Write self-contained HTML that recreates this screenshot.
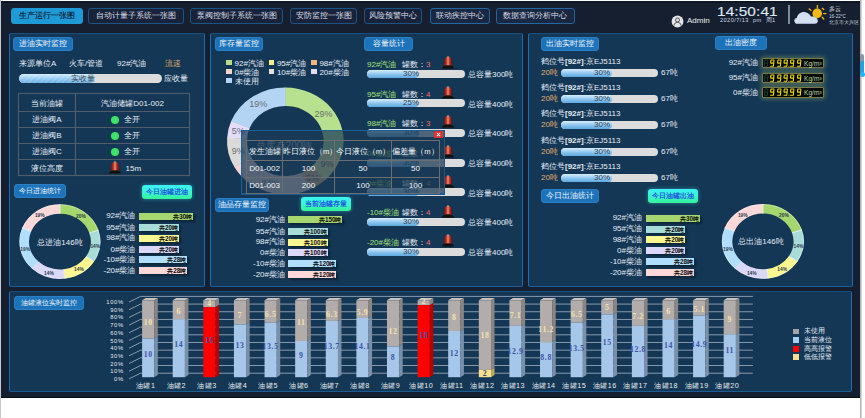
<!DOCTYPE html>
<html><head><meta charset="utf-8">
<style>
*{margin:0;padding:0;box-sizing:border-box}
html,body{width:865px;height:418px;overflow:hidden;background:#fff}
body{position:relative;font-family:"Liberation Sans",sans-serif;font-size:8px;color:#e8eef5;line-height:1}
.a{position:absolute;white-space:nowrap}
#frame{position:absolute;left:1px;top:1px;width:859px;height:397px;background:#151f30;border-top:2px solid #0e1624;border-bottom:1px solid #0a0f18}
.nav{position:absolute;top:8px;height:16px;border:1px solid #1b5386;border-radius:3px;background:#18233a;color:#d6dde6;font-size:8px;line-height:14px;text-align:center}
.nav.act{background:#1e9ad6;border-color:#1e9ad6;color:#0c2038;-webkit-text-stroke:0.15px #0c2038}
.panel{position:absolute;background:#133755;border:1px solid #1a6fb4;border-top-color:#17507f;border-bottom-color:#1a5d94;border-radius:2px}
.tbtn{position:absolute;height:14px;background:#1c73ba;border:1px solid #2c7fc2;border-radius:3px;color:#f2f6fa;font-size:8px;line-height:12px;text-align:center}
.cbtn{position:absolute;height:14px;background:linear-gradient(180deg,#3af2f6 0%,#3cf4d0 50%,#34f49a 100%);border-radius:3px;color:#1c3ee0;font-size:7.2px;line-height:14px;text-align:center;box-shadow:0 0 4px rgba(80,230,240,.45);-webkit-text-stroke:0.15px #1c3ee0}
</style></head><body>
<div id="frame"></div>
<div style="position:absolute;left:0;top:0;width:1px;height:418px;background:#c4c8cc"></div>
<div style="position:absolute;left:860px;top:0;width:2px;height:418px;background:linear-gradient(90deg,#9aa0a6,#e8eaec)"></div>

<!-- NAV -->
<div class="nav act" style="left:11px;width:72px">生产运行一张图</div>
<div class="nav" style="left:88px;width:96px">自动计量子系统一张图</div>
<div class="nav" style="left:190px;width:93px">泵阀控制子系统一张图</div>
<div class="nav" style="left:290px;width:67px">安防监控一张图</div>
<div class="nav" style="left:364px;width:58px">风险预警中心</div>
<div class="nav" style="left:430px;width:60px;border-color:#2366a0;background:#1a2740">联动疾控中心</div>
<div class="nav" style="left:495.5px;width:79.5px;border-color:#2366a0;background:#1a2740">数据查询分析中心</div>

<!-- PANELS -->
<div class="panel" style="left:9px;top:33px;width:196px;height:254px"></div>
<div class="panel" style="left:210px;top:33px;width:313px;height:254px"></div>
<div class="panel" style="left:528px;top:33px;width:325px;height:254px"></div>
<div class="panel" style="left:9px;top:291px;width:843px;height:101px"></div>


<!-- LEFT PANEL CONTENT -->
<div class="tbtn" style="left:13px;top:37px;width:60px">进油实时监控</div>
<div class="a" style="left:19px;top:60px">来源单位A</div>
<div class="a" style="left:69px;top:60px">火车/管道</div>
<div class="a" style="left:117px;top:60px">92#汽油</div>
<div class="a" style="left:165px;top:60px;color:#d9a566">流速</div>
<div class="a" style="left:19px;top:74px;width:143px;height:9px;border-radius:5px;background:#dcdcdc;overflow:hidden">
  <div style="position:absolute;left:0;top:0;width:76px;height:9px;border-radius:5px;background:repeating-linear-gradient(135deg,rgba(255,255,255,.12) 0 2px,rgba(255,255,255,0) 2px 4px),linear-gradient(180deg,#d4ecfb,#8cc6f0 60%,#6db2e6)"></div>
  <div style="position:absolute;left:0;top:0;width:128px;text-align:center;line-height:9px;color:#3e4a56">实收量</div>
</div>
<div class="a" style="left:164px;top:75px">应收量</div>
<svg class="a" style="left:0;top:0" width="210" height="200">
 <g stroke="#505c68" stroke-width="1.2" fill="none">
  <rect x="18.5" y="93.5" width="171" height="82"/>
  <line x1="75.5" y1="93" x2="75.5" y2="176"/>
  <line x1="18" y1="111.5" x2="190" y2="111.5"/>
  <line x1="18" y1="127.5" x2="190" y2="127.5"/>
  <line x1="18" y1="143.5" x2="190" y2="143.5"/>
  <line x1="18" y1="159.5" x2="190" y2="159.5"/>
 </g>
 <circle cx="115" cy="120" r="4" fill="#3fe06a"/>
 <circle cx="115" cy="136" r="4" fill="#3fe06a"/>
 <circle cx="115" cy="152" r="4" fill="#3fe06a"/>
</svg>
<div class="a" style="left:19px;top:99.5px;width:56px;text-align:center">当前油罐</div>
<div class="a" style="left:76px;top:99.5px;width:113px;text-align:center">汽油储罐D01-002</div>
<div class="a" style="left:19px;top:116.3px;width:56px;text-align:center">进油阀A</div>
<div class="a" style="left:124px;top:116.3px">全开</div>
<div class="a" style="left:19px;top:132.3px;width:56px;text-align:center">进油阀B</div>
<div class="a" style="left:124px;top:132.3px">全开</div>
<div class="a" style="left:19px;top:148.3px;width:56px;text-align:center">进油阀C</div>
<div class="a" style="left:124px;top:148.3px">全开</div>
<div class="a" style="left:19px;top:165px;width:56px;text-align:center">液位高度</div>
<div class="a" style="left:125.5px;top:165px">15m</div>
<!--ALARM15-->
<div class="tbtn" style="left:14px;top:183.5px;width:51.5px;height:14.5px;font-size:7.3px;line-height:12.5px">今日进油统计</div>
<div class="cbtn" style="left:142px;top:185px;width:50px">今日油罐进油</div>
<svg class="a" style="left:0;top:190px" width="205" height="100" font-family="Liberation Sans, sans-serif"><g transform="translate(0,-190)"><path d="M59.90,204.30 A40.5,37.3 0 0 1 98.42,230.07 L89.29,233.01 A30.9,27.8 0 0 0 59.90,213.80 Z" fill="#a6d66e"/>
<path d="M98.42,230.07 A40.5,37.3 0 0 1 94.10,261.59 L85.99,256.50 A30.9,27.8 0 0 0 89.29,233.01 Z" fill="#a8dcd8"/>
<path d="M94.10,261.59 A40.5,37.3 0 0 1 64.98,278.61 L63.77,269.18 A30.9,27.8 0 0 0 85.99,256.50 Z" fill="#fbf790"/>
<path d="M64.98,278.61 A40.5,37.3 0 0 1 32.18,268.79 L38.75,261.87 A30.9,27.8 0 0 0 63.77,269.18 Z" fill="#dcd8fa"/>
<path d="M32.18,268.79 A40.5,37.3 0 0 1 22.24,227.87 L31.17,231.37 A30.9,27.8 0 0 0 38.75,261.87 Z" fill="#b0defc"/>
<path d="M22.24,227.87 A40.5,37.3 0 0 1 59.90,204.30 L59.90,213.80 A30.9,27.8 0 0 0 31.17,231.37 Z" fill="#fdd8d8"/>
<line x1="59.90" y1="213.80" x2="59.90" y2="204.30" stroke="#ffffff" stroke-width="0.8"/>
<line x1="89.29" y1="233.01" x2="98.42" y2="230.07" stroke="#ffffff" stroke-width="0.8"/>
<line x1="85.99" y1="256.50" x2="94.10" y2="261.59" stroke="#ffffff" stroke-width="0.8"/>
<line x1="63.77" y1="269.18" x2="64.98" y2="278.61" stroke="#ffffff" stroke-width="0.8"/>
<line x1="38.75" y1="261.87" x2="32.18" y2="268.79" stroke="#ffffff" stroke-width="0.8"/>
<line x1="31.17" y1="231.37" x2="22.24" y2="227.87" stroke="#ffffff" stroke-width="0.8"/>
<ellipse cx="59.9" cy="241.6" rx="40.1" ry="36.9" fill="none" stroke="rgba(255,255,255,.45)" stroke-width="0.8"/>
<text x="80.9" y="216.0" font-size="4.9" fill="#2c3a4e" font-weight="bold" text-anchor="middle" dominant-baseline="central">20%</text>
<text x="95.3" y="246.4" font-size="4.9" fill="#2c3a4e" font-weight="bold" text-anchor="middle" dominant-baseline="central">14%</text>
<text x="79.0" y="269.8" font-size="4.9" fill="#2c3a4e" font-weight="bold" text-anchor="middle" dominant-baseline="central">14%</text>
<text x="48.9" y="273.3" font-size="4.9" fill="#2c3a4e" font-weight="bold" text-anchor="middle" dominant-baseline="central">14%</text>
<text x="25.1" y="249.4" font-size="4.9" fill="#2c3a4e" font-weight="bold" text-anchor="middle" dominant-baseline="central">19%</text>
<text x="39.8" y="215.4" font-size="4.9" fill="#2c3a4e" font-weight="bold" text-anchor="middle" dominant-baseline="central">19%</text></g></svg>
<div class="a" style="left:20px;top:239px;width:80px;text-align:center;font-size:8px">总进油146吨</div>
<div class="a" style="left:75.5px;top:212.4px;width:60px;text-align:right">92#汽油</div>
<div class="a" style="left:139px;top:212.9px;width:54.3px;height:7px;background:#a6d66e;box-shadow:1.5px 1.5px 2px rgba(0,0,0,.35);color:#0c0c0c;font-weight:bold;font-size:6.3px;line-height:7px;text-align:right;padding-right:1px">共30吨</div>
<div class="a" style="left:75.5px;top:223.5px;width:60px;text-align:right">95#汽油</div>
<div class="a" style="left:139px;top:224.0px;width:40px;height:7px;background:#a8dcd8;box-shadow:1.5px 1.5px 2px rgba(0,0,0,.35);color:#0c0c0c;font-weight:bold;font-size:6.3px;line-height:7px;text-align:right;padding-right:1px">共20吨</div>
<div class="a" style="left:75.5px;top:234.2px;width:60px;text-align:right">98#汽油</div>
<div class="a" style="left:139px;top:234.7px;width:40px;height:7px;background:#fbf790;box-shadow:1.5px 1.5px 2px rgba(0,0,0,.35);color:#0c0c0c;font-weight:bold;font-size:6.3px;line-height:7px;text-align:right;padding-right:1px">共20吨</div>
<div class="a" style="left:75.5px;top:245.5px;width:60px;text-align:right">0#柴油</div>
<div class="a" style="left:139px;top:246.0px;width:40px;height:7px;background:#dcd8fa;box-shadow:1.5px 1.5px 2px rgba(0,0,0,.35);color:#0c0c0c;font-weight:bold;font-size:6.3px;line-height:7px;text-align:right;padding-right:1px">共20吨</div>
<div class="a" style="left:75.5px;top:255.8px;width:60px;text-align:right">-10#柴油</div>
<div class="a" style="left:139px;top:256.3px;width:48.3px;height:7px;background:#b0defc;box-shadow:1.5px 1.5px 2px rgba(0,0,0,.35);color:#0c0c0c;font-weight:bold;font-size:6.3px;line-height:7px;text-align:right;padding-right:1px">共28吨</div>
<div class="a" style="left:75.5px;top:266.5px;width:60px;text-align:right">-20#柴油</div>
<div class="a" style="left:139px;top:267.0px;width:48.3px;height:7px;background:#fdd8d8;box-shadow:1.5px 1.5px 2px rgba(0,0,0,.35);color:#0c0c0c;font-weight:bold;font-size:6.3px;line-height:7px;text-align:right;padding-right:1px">共28吨</div>
<div class="tbtn" style="left:215px;top:37px;width:48px">库存量监控</div>
<div class="tbtn" style="left:364px;top:37px;width:49px">容量统计</div>
<div class="a" style="left:226.2px;top:59.9px;width:5.5px;height:5.2px;background:#b5dd8a"></div>
<div class="a" style="left:234.6px;top:59.6px">92#汽油</div>
<div class="a" style="left:268.5px;top:59.9px;width:5.5px;height:5.2px;background:#f8f08a"></div>
<div class="a" style="left:276.9px;top:59.6px">95#汽油</div>
<div class="a" style="left:311px;top:59.9px;width:5.5px;height:5.2px;background:#f0b47c"></div>
<div class="a" style="left:319.4px;top:59.6px">98#汽油</div>
<div class="a" style="left:226.2px;top:68.9px;width:5.5px;height:5.2px;background:#f8d4c8"></div>
<div class="a" style="left:234.6px;top:68.6px">0#柴油</div>
<div class="a" style="left:268.5px;top:68.9px;width:5.5px;height:5.2px;background:#e4e0dc"></div>
<div class="a" style="left:276.9px;top:68.6px">10#柴油</div>
<div class="a" style="left:311px;top:68.9px;width:5.5px;height:5.2px;background:#e4dcf4"></div>
<div class="a" style="left:319.4px;top:68.6px">20#柴油</div>
<div class="a" style="left:226.2px;top:77.9px;width:5.5px;height:5.2px;background:#b4d4f4"></div>
<div class="a" style="left:234.6px;top:77.6px">未使用</div>
<svg class="a" style="left:210px;top:80px" width="150" height="120" font-family="Liberation Sans, sans-serif"><g transform="translate(-210,-80)"><path d="M285.30,87.60 A58.3,53.4 0 0 1 341.77,154.28 L322.40,149.73 A38.3,35.1 0 0 0 285.30,105.90 Z" fill="#b7e08f"/>
<path d="M341.77,154.28 A58.3,53.4 0 0 1 325.21,179.93 L311.52,166.59 A38.3,35.1 0 0 0 322.40,149.73 Z" fill="#f8f08a"/>
<path d="M325.21,179.93 A58.3,53.4 0 0 1 310.12,189.32 L301.61,172.76 A38.3,35.1 0 0 0 311.52,166.59 Z" fill="#f0b47c"/>
<path d="M310.12,189.32 A58.3,53.4 0 0 1 234.21,166.73 L251.74,157.91 A38.3,35.1 0 0 0 301.61,172.76 Z" fill="#f8d4d0"/>
<path d="M234.21,166.73 A58.3,53.4 0 0 1 227.12,137.65 L247.08,138.80 A38.3,35.1 0 0 0 251.74,157.91 Z" fill="#dcdad8"/>
<path d="M227.12,137.65 A58.3,53.4 0 0 1 231.09,121.34 L249.69,128.08 A38.3,35.1 0 0 0 247.08,138.80 Z" fill="#e4dcf8"/>
<path d="M231.09,121.34 A58.3,53.4 0 0 1 285.30,87.60 L285.30,105.90 A38.3,35.1 0 0 0 249.69,128.08 Z" fill="#b4d4f4"/>
<line x1="285.30" y1="105.90" x2="285.30" y2="87.60" stroke="rgba(255,255,255,.6)" stroke-width="0.6"/>
<line x1="322.40" y1="149.73" x2="341.77" y2="154.28" stroke="rgba(255,255,255,.6)" stroke-width="0.6"/>
<line x1="311.52" y1="166.59" x2="325.21" y2="179.93" stroke="rgba(255,255,255,.6)" stroke-width="0.6"/>
<line x1="301.61" y1="172.76" x2="310.12" y2="189.32" stroke="rgba(255,255,255,.6)" stroke-width="0.6"/>
<line x1="251.74" y1="157.91" x2="234.21" y2="166.73" stroke="rgba(255,255,255,.6)" stroke-width="0.6"/>
<line x1="247.08" y1="138.80" x2="227.12" y2="137.65" stroke="rgba(255,255,255,.6)" stroke-width="0.6"/>
<line x1="249.69" y1="128.08" x2="231.09" y2="121.34" stroke="rgba(255,255,255,.6)" stroke-width="0.6"/>
<text x="323.5" y="113.9" font-size="9" fill="#6a6e70" font-weight="normal" text-anchor="middle" dominant-baseline="central">29%</text>
<text x="326.9" y="163.5" font-size="9" fill="#6a6e70" font-weight="normal" text-anchor="middle" dominant-baseline="central">9%</text>
<text x="312.4" y="177.6" font-size="9" fill="#6a6e70" font-weight="normal" text-anchor="middle" dominant-baseline="central">5%</text>
<text x="270.4" y="183.1" font-size="9" fill="#6a6e70" font-weight="normal" text-anchor="middle" dominant-baseline="central">24%</text>
<text x="238.2" y="150.7" font-size="9" fill="#6a6e70" font-weight="normal" text-anchor="middle" dominant-baseline="central">9%</text>
<text x="238.2" y="131.3" font-size="9" fill="#6a6e70" font-weight="normal" text-anchor="middle" dominant-baseline="central">5%</text>
<text x="258.2" y="104.4" font-size="9" fill="#6a6e70" font-weight="normal" text-anchor="middle" dominant-baseline="central">19%</text></g></svg>
<div class="a" style="left:244px;top:140.5px;width:80px;text-align:center;font-size:10px;color:#b4c0cc">总库存200吨</div>
<div class="a" style="left:367px;top:60.8px;color:#a6e27a">92#汽油</div>
<div class="a" style="left:402px;top:60.8px">罐数：<span style="color:#f46a6a">3</span></div>
<svg class="a" style="left:441px;top:56.0px" width="14" height="13" viewBox="0 0 14 13"><defs><linearGradient id="ag" x1="0" x2="1"><stop offset="0" stop-color="#5a120a"/><stop offset=".3" stop-color="#b8301e"/><stop offset=".5" stop-color="#e89080"/><stop offset=".7" stop-color="#b8301e"/><stop offset="1" stop-color="#4a0e08"/></linearGradient></defs><path d="M2.7,9.6 C2.7,2.6 4.2,0.9 7,0.9 C9.8,0.9 11.3,2.6 11.3,9.6 Z" fill="url(#ag)"/><path d="M0.8,12.4 C1.6,10.3 3,9.4 7,9.4 C11,9.4 12.4,10.3 13.2,12.4Z" fill="#140e08"/><path d="M5.8,1.1 L8.2,1.1 L7.8,0.3 L6.2,0.3Z" fill="#8a8a8a"/></svg>
<div class="a" style="left:367px;top:69.5px;width:98px;height:8px;border-radius:4px;background:#dcdcdc;overflow:hidden"><div style="position:absolute;left:0;top:0;width:52px;height:8px;border-radius:4px;background:linear-gradient(180deg,#d8eefc,#8ac4ee 55%,#5ea8e0)"></div><div style="position:absolute;left:0;top:0;width:52px;text-align:right;line-height:8px;color:#38424c">30%</div></div>
<div class="a" style="left:468px;top:70.8px">总容量300吨</div>
<div class="a" style="left:367px;top:90.5px;color:#a6e27a">95#汽油</div>
<div class="a" style="left:402px;top:90.5px">罐数：<span style="color:#f46a6a">4</span></div>
<svg class="a" style="left:441px;top:85.7px" width="14" height="13" viewBox="0 0 14 13"><defs><linearGradient id="ag" x1="0" x2="1"><stop offset="0" stop-color="#5a120a"/><stop offset=".3" stop-color="#b8301e"/><stop offset=".5" stop-color="#e89080"/><stop offset=".7" stop-color="#b8301e"/><stop offset="1" stop-color="#4a0e08"/></linearGradient></defs><path d="M2.7,9.6 C2.7,2.6 4.2,0.9 7,0.9 C9.8,0.9 11.3,2.6 11.3,9.6 Z" fill="url(#ag)"/><path d="M0.8,12.4 C1.6,10.3 3,9.4 7,9.4 C11,9.4 12.4,10.3 13.2,12.4Z" fill="#140e08"/><path d="M5.8,1.1 L8.2,1.1 L7.8,0.3 L6.2,0.3Z" fill="#8a8a8a"/></svg>
<div class="a" style="left:367px;top:99.2px;width:98px;height:8px;border-radius:4px;background:#dcdcdc;overflow:hidden"><div style="position:absolute;left:0;top:0;width:52px;height:8px;border-radius:4px;background:linear-gradient(180deg,#d8eefc,#8ac4ee 55%,#5ea8e0)"></div><div style="position:absolute;left:0;top:0;width:52px;text-align:right;line-height:8px;color:#38424c">25%</div></div>
<div class="a" style="left:468px;top:100.5px">总容量400吨</div>
<div class="a" style="left:367px;top:120.2px;color:#a6e27a">98#汽油</div>
<div class="a" style="left:402px;top:120.2px">罐数：<span style="color:#f46a6a">3</span></div>
<svg class="a" style="left:441px;top:115.4px" width="14" height="13" viewBox="0 0 14 13"><defs><linearGradient id="ag" x1="0" x2="1"><stop offset="0" stop-color="#5a120a"/><stop offset=".3" stop-color="#b8301e"/><stop offset=".5" stop-color="#e89080"/><stop offset=".7" stop-color="#b8301e"/><stop offset="1" stop-color="#4a0e08"/></linearGradient></defs><path d="M2.7,9.6 C2.7,2.6 4.2,0.9 7,0.9 C9.8,0.9 11.3,2.6 11.3,9.6 Z" fill="url(#ag)"/><path d="M0.8,12.4 C1.6,10.3 3,9.4 7,9.4 C11,9.4 12.4,10.3 13.2,12.4Z" fill="#140e08"/><path d="M5.8,1.1 L8.2,1.1 L7.8,0.3 L6.2,0.3Z" fill="#8a8a8a"/></svg>
<div class="a" style="left:367px;top:128.9px;width:98px;height:8px;border-radius:4px;background:#dcdcdc;overflow:hidden"><div style="position:absolute;left:0;top:0;width:52px;height:8px;border-radius:4px;background:linear-gradient(180deg,#d8eefc,#8ac4ee 55%,#5ea8e0)"></div><div style="position:absolute;left:0;top:0;width:52px;text-align:right;line-height:8px;color:#38424c">30%</div></div>
<div class="a" style="left:468px;top:130.2px">总容量400吨</div>
<div class="a" style="left:367px;top:149.9px;color:#a6e27a">0#柴油</div>
<div class="a" style="left:402px;top:149.9px">罐数：<span style="color:#f46a6a">4</span></div>
<svg class="a" style="left:441px;top:145.1px" width="14" height="13" viewBox="0 0 14 13"><defs><linearGradient id="ag" x1="0" x2="1"><stop offset="0" stop-color="#5a120a"/><stop offset=".3" stop-color="#b8301e"/><stop offset=".5" stop-color="#e89080"/><stop offset=".7" stop-color="#b8301e"/><stop offset="1" stop-color="#4a0e08"/></linearGradient></defs><path d="M2.7,9.6 C2.7,2.6 4.2,0.9 7,0.9 C9.8,0.9 11.3,2.6 11.3,9.6 Z" fill="url(#ag)"/><path d="M0.8,12.4 C1.6,10.3 3,9.4 7,9.4 C11,9.4 12.4,10.3 13.2,12.4Z" fill="#140e08"/><path d="M5.8,1.1 L8.2,1.1 L7.8,0.3 L6.2,0.3Z" fill="#8a8a8a"/></svg>
<div class="a" style="left:367px;top:158.6px;width:98px;height:8px;border-radius:4px;background:#dcdcdc;overflow:hidden"><div style="position:absolute;left:0;top:0;width:52px;height:8px;border-radius:4px;background:linear-gradient(180deg,#d8eefc,#8ac4ee 55%,#5ea8e0)"></div><div style="position:absolute;left:0;top:0;width:52px;text-align:right;line-height:8px;color:#38424c">30%</div></div>
<div class="a" style="left:468px;top:159.9px">总容量400吨</div>
<div class="a" style="left:367px;top:179.6px;color:#a6e27a">0#柴油</div>
<div class="a" style="left:402px;top:179.6px">罐数：<span style="color:#f46a6a">4</span></div>
<svg class="a" style="left:441px;top:174.8px" width="14" height="13" viewBox="0 0 14 13"><defs><linearGradient id="ag" x1="0" x2="1"><stop offset="0" stop-color="#5a120a"/><stop offset=".3" stop-color="#b8301e"/><stop offset=".5" stop-color="#e89080"/><stop offset=".7" stop-color="#b8301e"/><stop offset="1" stop-color="#4a0e08"/></linearGradient></defs><path d="M2.7,9.6 C2.7,2.6 4.2,0.9 7,0.9 C9.8,0.9 11.3,2.6 11.3,9.6 Z" fill="url(#ag)"/><path d="M0.8,12.4 C1.6,10.3 3,9.4 7,9.4 C11,9.4 12.4,10.3 13.2,12.4Z" fill="#140e08"/><path d="M5.8,1.1 L8.2,1.1 L7.8,0.3 L6.2,0.3Z" fill="#8a8a8a"/></svg>
<div class="a" style="left:367px;top:188.3px;width:98px;height:8px;border-radius:4px;background:#dcdcdc;overflow:hidden"><div style="position:absolute;left:0;top:0;width:52px;height:8px;border-radius:4px;background:linear-gradient(180deg,#d8eefc,#8ac4ee 55%,#5ea8e0)"></div><div style="position:absolute;left:0;top:0;width:52px;text-align:right;line-height:8px;color:#38424c">30%</div></div>
<div class="a" style="left:468px;top:189.6px">总容量400吨</div>
<div class="a" style="left:367px;top:209.3px;color:#a6e27a">-10#柴油</div>
<div class="a" style="left:402px;top:209.3px">罐数：<span style="color:#f46a6a">4</span></div>
<svg class="a" style="left:441px;top:204.5px" width="14" height="13" viewBox="0 0 14 13"><defs><linearGradient id="ag" x1="0" x2="1"><stop offset="0" stop-color="#5a120a"/><stop offset=".3" stop-color="#b8301e"/><stop offset=".5" stop-color="#e89080"/><stop offset=".7" stop-color="#b8301e"/><stop offset="1" stop-color="#4a0e08"/></linearGradient></defs><path d="M2.7,9.6 C2.7,2.6 4.2,0.9 7,0.9 C9.8,0.9 11.3,2.6 11.3,9.6 Z" fill="url(#ag)"/><path d="M0.8,12.4 C1.6,10.3 3,9.4 7,9.4 C11,9.4 12.4,10.3 13.2,12.4Z" fill="#140e08"/><path d="M5.8,1.1 L8.2,1.1 L7.8,0.3 L6.2,0.3Z" fill="#8a8a8a"/></svg>
<div class="a" style="left:367px;top:218.0px;width:98px;height:8px;border-radius:4px;background:#dcdcdc;overflow:hidden"><div style="position:absolute;left:0;top:0;width:52px;height:8px;border-radius:4px;background:linear-gradient(180deg,#d8eefc,#8ac4ee 55%,#5ea8e0)"></div><div style="position:absolute;left:0;top:0;width:52px;text-align:right;line-height:8px;color:#38424c">30%</div></div>
<div class="a" style="left:468px;top:219.3px">总容量400吨</div>
<div class="a" style="left:367px;top:239.0px;color:#a6e27a">-20#柴油</div>
<div class="a" style="left:402px;top:239.0px">罐数：<span style="color:#f46a6a">4</span></div>
<svg class="a" style="left:441px;top:234.2px" width="14" height="13" viewBox="0 0 14 13"><defs><linearGradient id="ag" x1="0" x2="1"><stop offset="0" stop-color="#5a120a"/><stop offset=".3" stop-color="#b8301e"/><stop offset=".5" stop-color="#e89080"/><stop offset=".7" stop-color="#b8301e"/><stop offset="1" stop-color="#4a0e08"/></linearGradient></defs><path d="M2.7,9.6 C2.7,2.6 4.2,0.9 7,0.9 C9.8,0.9 11.3,2.6 11.3,9.6 Z" fill="url(#ag)"/><path d="M0.8,12.4 C1.6,10.3 3,9.4 7,9.4 C11,9.4 12.4,10.3 13.2,12.4Z" fill="#140e08"/><path d="M5.8,1.1 L8.2,1.1 L7.8,0.3 L6.2,0.3Z" fill="#8a8a8a"/></svg>
<div class="a" style="left:367px;top:247.7px;width:98px;height:8px;border-radius:4px;background:#dcdcdc;overflow:hidden"><div style="position:absolute;left:0;top:0;width:52px;height:8px;border-radius:4px;background:linear-gradient(180deg,#d8eefc,#8ac4ee 55%,#5ea8e0)"></div><div style="position:absolute;left:0;top:0;width:52px;text-align:right;line-height:8px;color:#38424c">30%</div></div>
<div class="a" style="left:468px;top:249.0px">总容量400吨</div>
<div class="tbtn" style="left:215px;top:198px;width:54px">油品存量监控</div>
<div class="cbtn" style="left:301px;top:197px;width:50px">当前油罐存量</div>
<div class="a" style="left:225px;top:215.9px;width:60px;text-align:right">92#汽油</div>
<div class="a" style="left:288.2px;top:216.4px;width:54.3px;height:7px;background:#a6d66e;box-shadow:1.5px 1.5px 2px rgba(0,0,0,.35);color:#0c0c0c;font-weight:bold;font-size:6.3px;line-height:7px;text-align:right;padding-right:1px">共150吨</div>
<div class="a" style="left:225px;top:227.6px;width:60px;text-align:right">95#汽油</div>
<div class="a" style="left:288.2px;top:228.1px;width:39.4px;height:7px;background:#a8dcd8;box-shadow:1.5px 1.5px 2px rgba(0,0,0,.35);color:#0c0c0c;font-weight:bold;font-size:6.3px;line-height:7px;text-align:right;padding-right:1px">共100吨</div>
<div class="a" style="left:225px;top:238px;width:60px;text-align:right">98#汽油</div>
<div class="a" style="left:288.2px;top:238.5px;width:39.4px;height:7px;background:#fbf790;box-shadow:1.5px 1.5px 2px rgba(0,0,0,.35);color:#0c0c0c;font-weight:bold;font-size:6.3px;line-height:7px;text-align:right;padding-right:1px">共100吨</div>
<div class="a" style="left:225px;top:248.9px;width:60px;text-align:right">0#柴油</div>
<div class="a" style="left:288.2px;top:249.4px;width:39.4px;height:7px;background:#dcd8fa;box-shadow:1.5px 1.5px 2px rgba(0,0,0,.35);color:#0c0c0c;font-weight:bold;font-size:6.3px;line-height:7px;text-align:right;padding-right:1px">共100吨</div>
<div class="a" style="left:225px;top:259.7px;width:60px;text-align:right">-10#柴油</div>
<div class="a" style="left:288.2px;top:260.2px;width:48.3px;height:7px;background:#b0defc;box-shadow:1.5px 1.5px 2px rgba(0,0,0,.35);color:#0c0c0c;font-weight:bold;font-size:6.3px;line-height:7px;text-align:right;padding-right:1px">共120吨</div>
<div class="a" style="left:225px;top:270.5px;width:60px;text-align:right">-20#柴油</div>
<div class="a" style="left:288.2px;top:271.0px;width:48.3px;height:7px;background:#fdd8d8;box-shadow:1.5px 1.5px 2px rgba(0,0,0,.35);color:#0c0c0c;font-weight:bold;font-size:6.3px;line-height:7px;text-align:right;padding-right:1px">共120吨</div>
<div class="a" style="left:241px;top:130px;width:203.5px;height:65px;background:rgba(29,60,86,.74);border:1px solid #1c5f96;border-right-color:#25567e;border-bottom:2px solid #1a5a90"></div>
<div class="a" style="left:434px;top:131px;width:9px;height:7px;background:#d83434;color:#fff;font-size:7px;line-height:7px;text-align:center;font-weight:bold">×</div>
<svg class="a" style="left:240px;top:135px" width="210" height="65"><g transform="translate(-240,-135)" stroke="#6b6e70" stroke-width="1" fill="none"><rect x="246.5" y="140.5" width="193" height="53"/><line x1="282.5" y1="140" x2="282.5" y2="194"/><line x1="334.5" y1="140" x2="334.5" y2="194"/><line x1="391.5" y1="140" x2="391.5" y2="194"/><line x1="246" y1="160.5" x2="440" y2="160.5"/><line x1="246" y1="177.5" x2="440" y2="177.5"/></g></svg>
<div class="a" style="left:247px;top:147.5px;width:35px;text-align:center;color:#f4f6f8;font-size:7.6px">发生油罐</div>
<div class="a" style="left:283px;top:147.5px;width:51px;text-align:center;color:#f4f6f8;font-size:7.6px">昨日液位（m）</div>
<div class="a" style="left:335px;top:147.5px;width:56px;text-align:center;color:#f4f6f8;font-size:7.6px">今日液位（m）</div>
<div class="a" style="left:392px;top:147.5px;width:47px;text-align:center;color:#f4f6f8;font-size:7.6px">偏差量（m）</div>
<div class="a" style="left:247px;top:164.6px;width:35px;text-align:center;color:#f4f6f8;font-size:8px">D01-002</div>
<div class="a" style="left:283px;top:164.6px;width:51px;text-align:center;color:#f4f6f8;font-size:8px">100</div>
<div class="a" style="left:335px;top:164.6px;width:56px;text-align:center;color:#f4f6f8;font-size:8px">50</div>
<div class="a" style="left:392px;top:164.6px;width:47px;text-align:center;color:#f4f6f8;font-size:8px">50</div>
<div class="a" style="left:247px;top:181.5px;width:35px;text-align:center;color:#f4f6f8;font-size:8px">D01-003</div>
<div class="a" style="left:283px;top:181.5px;width:51px;text-align:center;color:#f4f6f8;font-size:8px">200</div>
<div class="a" style="left:335px;top:181.5px;width:56px;text-align:center;color:#f4f6f8;font-size:8px">100</div>
<div class="a" style="left:392px;top:181.5px;width:47px;text-align:center;color:#f4f6f8;font-size:8px">100</div>
<svg class="a" style="left:108px;top:161px" width="14" height="13" viewBox="0 0 14 13"><defs><linearGradient id="ag" x1="0" x2="1"><stop offset="0" stop-color="#5a120a"/><stop offset=".3" stop-color="#b8301e"/><stop offset=".5" stop-color="#e89080"/><stop offset=".7" stop-color="#b8301e"/><stop offset="1" stop-color="#4a0e08"/></linearGradient></defs><path d="M2.7,9.6 C2.7,2.6 4.2,0.9 7,0.9 C9.8,0.9 11.3,2.6 11.3,9.6 Z" fill="url(#ag)"/><path d="M0.8,12.4 C1.6,10.3 3,9.4 7,9.4 C11,9.4 12.4,10.3 13.2,12.4Z" fill="#140e08"/><path d="M5.8,1.1 L8.2,1.1 L7.8,0.3 L6.2,0.3Z" fill="#8a8a8a"/></svg>
<div class="tbtn" style="left:541px;top:37px;width:58px">出油实时监控</div>
<div class="tbtn" style="left:715px;top:36px;width:52px">出油密度</div>
<div class="a" style="left:541px;top:57.5px">鹤位号<b>[92#]</b>:京EJ5113</div>
<div class="a" style="left:541px;top:68.5px;color:#e6b06e">20吨</div>
<div class="a" style="left:561px;top:68.5px;width:97px;height:8px;border-radius:4px;background:#dcdcdc;overflow:hidden"><div style="position:absolute;left:0;top:0;width:51px;height:8px;border-radius:4px;background:linear-gradient(180deg,#d8eefc,#8ac4ee 55%,#5ea8e0)"></div><div style="position:absolute;left:0;top:0;width:49px;text-align:right;line-height:8px;color:#38424c">30%</div></div>
<div class="a" style="left:661px;top:68.5px">67吨</div>
<div class="a" style="left:541px;top:83.9px">鹤位号<b>[92#]</b>:京EJ5113</div>
<div class="a" style="left:541px;top:94.9px;color:#e6b06e">20吨</div>
<div class="a" style="left:561px;top:94.9px;width:97px;height:8px;border-radius:4px;background:#dcdcdc;overflow:hidden"><div style="position:absolute;left:0;top:0;width:51px;height:8px;border-radius:4px;background:linear-gradient(180deg,#d8eefc,#8ac4ee 55%,#5ea8e0)"></div><div style="position:absolute;left:0;top:0;width:49px;text-align:right;line-height:8px;color:#38424c">30%</div></div>
<div class="a" style="left:661px;top:94.9px">67吨</div>
<div class="a" style="left:541px;top:110.3px">鹤位号<b>[92#]</b>:京EJ5113</div>
<div class="a" style="left:541px;top:121.3px;color:#e6b06e">20吨</div>
<div class="a" style="left:561px;top:121.3px;width:97px;height:8px;border-radius:4px;background:#dcdcdc;overflow:hidden"><div style="position:absolute;left:0;top:0;width:51px;height:8px;border-radius:4px;background:linear-gradient(180deg,#d8eefc,#8ac4ee 55%,#5ea8e0)"></div><div style="position:absolute;left:0;top:0;width:49px;text-align:right;line-height:8px;color:#38424c">30%</div></div>
<div class="a" style="left:661px;top:121.3px">67吨</div>
<div class="a" style="left:541px;top:136.7px">鹤位号<b>[92#]</b>:京EJ5113</div>
<div class="a" style="left:541px;top:147.7px;color:#e6b06e">20吨</div>
<div class="a" style="left:561px;top:147.7px;width:97px;height:8px;border-radius:4px;background:#dcdcdc;overflow:hidden"><div style="position:absolute;left:0;top:0;width:51px;height:8px;border-radius:4px;background:linear-gradient(180deg,#d8eefc,#8ac4ee 55%,#5ea8e0)"></div><div style="position:absolute;left:0;top:0;width:49px;text-align:right;line-height:8px;color:#38424c">30%</div></div>
<div class="a" style="left:661px;top:147.7px">67吨</div>
<div class="a" style="left:541px;top:163.1px">鹤位号<b>[92#]</b>:京EJ5113</div>
<div class="a" style="left:541px;top:174.1px;color:#e6b06e">20吨</div>
<div class="a" style="left:561px;top:174.1px;width:97px;height:8px;border-radius:4px;background:#dcdcdc;overflow:hidden"><div style="position:absolute;left:0;top:0;width:51px;height:8px;border-radius:4px;background:linear-gradient(180deg,#d8eefc,#8ac4ee 55%,#5ea8e0)"></div><div style="position:absolute;left:0;top:0;width:49px;text-align:right;line-height:8px;color:#38424c">30%</div></div>
<div class="a" style="left:661px;top:174.1px">67吨</div>
<div class="a" style="left:698px;top:59.4px;width:60px;text-align:right">92#汽油</div>
<div class="a" style="left:762px;top:58.2px;width:62px;height:10.2px;background:#050705;border:0.8px solid #7a7a48;border-radius:1px;box-shadow:0 0 4px 1.5px rgba(140,160,90,.45)"></div>
<svg class="a" style="left:760px;top:56.2px" width="66" height="14"><line x1="5.30" y1="3.90" x2="7.70" y2="3.90" stroke="#163a38" stroke-width="1.0" stroke-linecap="round"/><line x1="7.96" y1="4.28" x2="7.72" y2="6.84" stroke="#163a38" stroke-width="1.0" stroke-linecap="round"/><line x1="7.68" y1="7.36" x2="7.44" y2="9.92" stroke="#163a38" stroke-width="1.0" stroke-linecap="round"/><line x1="4.70" y1="10.30" x2="7.10" y2="10.30" stroke="#163a38" stroke-width="1.0" stroke-linecap="round"/><line x1="4.68" y1="7.36" x2="4.44" y2="9.92" stroke="#163a38" stroke-width="1.0" stroke-linecap="round"/><line x1="4.96" y1="4.28" x2="4.72" y2="6.84" stroke="#163a38" stroke-width="1.0" stroke-linecap="round"/><line x1="5.00" y1="7.10" x2="7.40" y2="7.10" stroke="#163a38" stroke-width="1.0" stroke-linecap="round"/><line x1="11.21" y1="3.90" x2="13.69" y2="3.90" stroke="#ecdc18" stroke-width="1.05" stroke-linecap="round"/><line x1="13.96" y1="4.28" x2="13.72" y2="6.84" stroke="#ecdc18" stroke-width="1.05" stroke-linecap="round"/><line x1="13.68" y1="7.36" x2="13.44" y2="9.92" stroke="#ecdc18" stroke-width="1.05" stroke-linecap="round"/><line x1="10.61" y1="10.30" x2="13.09" y2="10.30" stroke="#ecdc18" stroke-width="1.05" stroke-linecap="round"/><line x1="10.86" y1="4.28" x2="10.62" y2="6.84" stroke="#ecdc18" stroke-width="1.05" stroke-linecap="round"/><line x1="10.91" y1="7.10" x2="13.39" y2="7.10" stroke="#ecdc18" stroke-width="1.05" stroke-linecap="round"/><line x1="18.21" y1="3.90" x2="20.69" y2="3.90" stroke="#ecdc18" stroke-width="1.05" stroke-linecap="round"/><line x1="20.96" y1="4.28" x2="20.72" y2="6.84" stroke="#ecdc18" stroke-width="1.05" stroke-linecap="round"/><line x1="20.68" y1="7.36" x2="20.44" y2="9.92" stroke="#ecdc18" stroke-width="1.05" stroke-linecap="round"/><line x1="17.61" y1="10.30" x2="20.09" y2="10.30" stroke="#ecdc18" stroke-width="1.05" stroke-linecap="round"/><line x1="17.86" y1="4.28" x2="17.62" y2="6.84" stroke="#ecdc18" stroke-width="1.05" stroke-linecap="round"/><line x1="17.91" y1="7.10" x2="20.39" y2="7.10" stroke="#ecdc18" stroke-width="1.05" stroke-linecap="round"/><line x1="24.61" y1="3.90" x2="27.09" y2="3.90" stroke="#ecdc18" stroke-width="1.05" stroke-linecap="round"/><line x1="27.36" y1="4.28" x2="27.12" y2="6.84" stroke="#ecdc18" stroke-width="1.05" stroke-linecap="round"/><line x1="27.08" y1="7.36" x2="26.84" y2="9.92" stroke="#ecdc18" stroke-width="1.05" stroke-linecap="round"/><line x1="24.01" y1="10.30" x2="26.49" y2="10.30" stroke="#ecdc18" stroke-width="1.05" stroke-linecap="round"/><line x1="24.26" y1="4.28" x2="24.02" y2="6.84" stroke="#ecdc18" stroke-width="1.05" stroke-linecap="round"/><line x1="24.31" y1="7.10" x2="26.79" y2="7.10" stroke="#ecdc18" stroke-width="1.05" stroke-linecap="round"/><line x1="31.11" y1="3.90" x2="33.59" y2="3.90" stroke="#ecdc18" stroke-width="1.05" stroke-linecap="round"/><line x1="33.86" y1="4.28" x2="33.62" y2="6.84" stroke="#ecdc18" stroke-width="1.05" stroke-linecap="round"/><line x1="33.58" y1="7.36" x2="33.34" y2="9.92" stroke="#ecdc18" stroke-width="1.05" stroke-linecap="round"/><line x1="30.51" y1="10.30" x2="32.99" y2="10.30" stroke="#ecdc18" stroke-width="1.05" stroke-linecap="round"/><line x1="30.76" y1="4.28" x2="30.52" y2="6.84" stroke="#ecdc18" stroke-width="1.05" stroke-linecap="round"/><line x1="30.81" y1="7.10" x2="33.29" y2="7.10" stroke="#ecdc18" stroke-width="1.05" stroke-linecap="round"/><line x1="38.11" y1="3.90" x2="40.59" y2="3.90" stroke="#ecdc18" stroke-width="1.05" stroke-linecap="round"/><line x1="40.86" y1="4.28" x2="40.62" y2="6.84" stroke="#ecdc18" stroke-width="1.05" stroke-linecap="round"/><line x1="40.58" y1="7.36" x2="40.34" y2="9.92" stroke="#ecdc18" stroke-width="1.05" stroke-linecap="round"/><line x1="37.51" y1="10.30" x2="39.99" y2="10.30" stroke="#ecdc18" stroke-width="1.05" stroke-linecap="round"/><line x1="37.76" y1="4.28" x2="37.52" y2="6.84" stroke="#ecdc18" stroke-width="1.05" stroke-linecap="round"/><line x1="37.81" y1="7.10" x2="40.29" y2="7.10" stroke="#ecdc18" stroke-width="1.05" stroke-linecap="round"/><circle cx="28.9" cy="10.2" r="0.55" fill="#ecdc18"/><text x="44" y="9.7" font-size="6.6" fill="#b8d8a8" font-family="Liberation Sans, sans-serif">Kg/m³</text></svg>
<div class="a" style="left:698px;top:74.0px;width:60px;text-align:right">95#汽油</div>
<div class="a" style="left:762px;top:72.8px;width:62px;height:10.2px;background:#050705;border:0.8px solid #7a7a48;border-radius:1px;box-shadow:0 0 4px 1.5px rgba(140,160,90,.45)"></div>
<svg class="a" style="left:760px;top:70.8px" width="66" height="14"><line x1="5.30" y1="3.90" x2="7.70" y2="3.90" stroke="#163a38" stroke-width="1.0" stroke-linecap="round"/><line x1="7.96" y1="4.28" x2="7.72" y2="6.84" stroke="#163a38" stroke-width="1.0" stroke-linecap="round"/><line x1="7.68" y1="7.36" x2="7.44" y2="9.92" stroke="#163a38" stroke-width="1.0" stroke-linecap="round"/><line x1="4.70" y1="10.30" x2="7.10" y2="10.30" stroke="#163a38" stroke-width="1.0" stroke-linecap="round"/><line x1="4.68" y1="7.36" x2="4.44" y2="9.92" stroke="#163a38" stroke-width="1.0" stroke-linecap="round"/><line x1="4.96" y1="4.28" x2="4.72" y2="6.84" stroke="#163a38" stroke-width="1.0" stroke-linecap="round"/><line x1="5.00" y1="7.10" x2="7.40" y2="7.10" stroke="#163a38" stroke-width="1.0" stroke-linecap="round"/><line x1="11.21" y1="3.90" x2="13.69" y2="3.90" stroke="#ecdc18" stroke-width="1.05" stroke-linecap="round"/><line x1="13.96" y1="4.28" x2="13.72" y2="6.84" stroke="#ecdc18" stroke-width="1.05" stroke-linecap="round"/><line x1="13.68" y1="7.36" x2="13.44" y2="9.92" stroke="#ecdc18" stroke-width="1.05" stroke-linecap="round"/><line x1="10.61" y1="10.30" x2="13.09" y2="10.30" stroke="#ecdc18" stroke-width="1.05" stroke-linecap="round"/><line x1="10.86" y1="4.28" x2="10.62" y2="6.84" stroke="#ecdc18" stroke-width="1.05" stroke-linecap="round"/><line x1="10.91" y1="7.10" x2="13.39" y2="7.10" stroke="#ecdc18" stroke-width="1.05" stroke-linecap="round"/><line x1="18.21" y1="3.90" x2="20.69" y2="3.90" stroke="#ecdc18" stroke-width="1.05" stroke-linecap="round"/><line x1="20.96" y1="4.28" x2="20.72" y2="6.84" stroke="#ecdc18" stroke-width="1.05" stroke-linecap="round"/><line x1="20.68" y1="7.36" x2="20.44" y2="9.92" stroke="#ecdc18" stroke-width="1.05" stroke-linecap="round"/><line x1="17.61" y1="10.30" x2="20.09" y2="10.30" stroke="#ecdc18" stroke-width="1.05" stroke-linecap="round"/><line x1="17.86" y1="4.28" x2="17.62" y2="6.84" stroke="#ecdc18" stroke-width="1.05" stroke-linecap="round"/><line x1="17.91" y1="7.10" x2="20.39" y2="7.10" stroke="#ecdc18" stroke-width="1.05" stroke-linecap="round"/><line x1="24.61" y1="3.90" x2="27.09" y2="3.90" stroke="#ecdc18" stroke-width="1.05" stroke-linecap="round"/><line x1="27.36" y1="4.28" x2="27.12" y2="6.84" stroke="#ecdc18" stroke-width="1.05" stroke-linecap="round"/><line x1="27.08" y1="7.36" x2="26.84" y2="9.92" stroke="#ecdc18" stroke-width="1.05" stroke-linecap="round"/><line x1="24.01" y1="10.30" x2="26.49" y2="10.30" stroke="#ecdc18" stroke-width="1.05" stroke-linecap="round"/><line x1="24.26" y1="4.28" x2="24.02" y2="6.84" stroke="#ecdc18" stroke-width="1.05" stroke-linecap="round"/><line x1="24.31" y1="7.10" x2="26.79" y2="7.10" stroke="#ecdc18" stroke-width="1.05" stroke-linecap="round"/><line x1="31.11" y1="3.90" x2="33.59" y2="3.90" stroke="#ecdc18" stroke-width="1.05" stroke-linecap="round"/><line x1="33.86" y1="4.28" x2="33.62" y2="6.84" stroke="#ecdc18" stroke-width="1.05" stroke-linecap="round"/><line x1="33.58" y1="7.36" x2="33.34" y2="9.92" stroke="#ecdc18" stroke-width="1.05" stroke-linecap="round"/><line x1="30.51" y1="10.30" x2="32.99" y2="10.30" stroke="#ecdc18" stroke-width="1.05" stroke-linecap="round"/><line x1="30.76" y1="4.28" x2="30.52" y2="6.84" stroke="#ecdc18" stroke-width="1.05" stroke-linecap="round"/><line x1="30.81" y1="7.10" x2="33.29" y2="7.10" stroke="#ecdc18" stroke-width="1.05" stroke-linecap="round"/><line x1="38.11" y1="3.90" x2="40.59" y2="3.90" stroke="#ecdc18" stroke-width="1.05" stroke-linecap="round"/><line x1="40.86" y1="4.28" x2="40.62" y2="6.84" stroke="#ecdc18" stroke-width="1.05" stroke-linecap="round"/><line x1="40.58" y1="7.36" x2="40.34" y2="9.92" stroke="#ecdc18" stroke-width="1.05" stroke-linecap="round"/><line x1="37.51" y1="10.30" x2="39.99" y2="10.30" stroke="#ecdc18" stroke-width="1.05" stroke-linecap="round"/><line x1="37.76" y1="4.28" x2="37.52" y2="6.84" stroke="#ecdc18" stroke-width="1.05" stroke-linecap="round"/><line x1="37.81" y1="7.10" x2="40.29" y2="7.10" stroke="#ecdc18" stroke-width="1.05" stroke-linecap="round"/><circle cx="28.9" cy="10.2" r="0.55" fill="#ecdc18"/><text x="44" y="9.7" font-size="6.6" fill="#b8d8a8" font-family="Liberation Sans, sans-serif">Kg/m³</text></svg>
<div class="a" style="left:698px;top:88.6px;width:60px;text-align:right">0#柴油</div>
<div class="a" style="left:762px;top:87.4px;width:62px;height:10.2px;background:#050705;border:0.8px solid #7a7a48;border-radius:1px;box-shadow:0 0 4px 1.5px rgba(140,160,90,.45)"></div>
<svg class="a" style="left:760px;top:85.4px" width="66" height="14"><line x1="5.30" y1="3.90" x2="7.70" y2="3.90" stroke="#163a38" stroke-width="1.0" stroke-linecap="round"/><line x1="7.96" y1="4.28" x2="7.72" y2="6.84" stroke="#163a38" stroke-width="1.0" stroke-linecap="round"/><line x1="7.68" y1="7.36" x2="7.44" y2="9.92" stroke="#163a38" stroke-width="1.0" stroke-linecap="round"/><line x1="4.70" y1="10.30" x2="7.10" y2="10.30" stroke="#163a38" stroke-width="1.0" stroke-linecap="round"/><line x1="4.68" y1="7.36" x2="4.44" y2="9.92" stroke="#163a38" stroke-width="1.0" stroke-linecap="round"/><line x1="4.96" y1="4.28" x2="4.72" y2="6.84" stroke="#163a38" stroke-width="1.0" stroke-linecap="round"/><line x1="5.00" y1="7.10" x2="7.40" y2="7.10" stroke="#163a38" stroke-width="1.0" stroke-linecap="round"/><line x1="11.21" y1="3.90" x2="13.69" y2="3.90" stroke="#ecdc18" stroke-width="1.05" stroke-linecap="round"/><line x1="13.96" y1="4.28" x2="13.72" y2="6.84" stroke="#ecdc18" stroke-width="1.05" stroke-linecap="round"/><line x1="13.68" y1="7.36" x2="13.44" y2="9.92" stroke="#ecdc18" stroke-width="1.05" stroke-linecap="round"/><line x1="10.61" y1="10.30" x2="13.09" y2="10.30" stroke="#ecdc18" stroke-width="1.05" stroke-linecap="round"/><line x1="10.86" y1="4.28" x2="10.62" y2="6.84" stroke="#ecdc18" stroke-width="1.05" stroke-linecap="round"/><line x1="10.91" y1="7.10" x2="13.39" y2="7.10" stroke="#ecdc18" stroke-width="1.05" stroke-linecap="round"/><line x1="18.21" y1="3.90" x2="20.69" y2="3.90" stroke="#ecdc18" stroke-width="1.05" stroke-linecap="round"/><line x1="20.96" y1="4.28" x2="20.72" y2="6.84" stroke="#ecdc18" stroke-width="1.05" stroke-linecap="round"/><line x1="20.68" y1="7.36" x2="20.44" y2="9.92" stroke="#ecdc18" stroke-width="1.05" stroke-linecap="round"/><line x1="17.61" y1="10.30" x2="20.09" y2="10.30" stroke="#ecdc18" stroke-width="1.05" stroke-linecap="round"/><line x1="17.86" y1="4.28" x2="17.62" y2="6.84" stroke="#ecdc18" stroke-width="1.05" stroke-linecap="round"/><line x1="17.91" y1="7.10" x2="20.39" y2="7.10" stroke="#ecdc18" stroke-width="1.05" stroke-linecap="round"/><line x1="24.61" y1="3.90" x2="27.09" y2="3.90" stroke="#ecdc18" stroke-width="1.05" stroke-linecap="round"/><line x1="27.36" y1="4.28" x2="27.12" y2="6.84" stroke="#ecdc18" stroke-width="1.05" stroke-linecap="round"/><line x1="27.08" y1="7.36" x2="26.84" y2="9.92" stroke="#ecdc18" stroke-width="1.05" stroke-linecap="round"/><line x1="24.01" y1="10.30" x2="26.49" y2="10.30" stroke="#ecdc18" stroke-width="1.05" stroke-linecap="round"/><line x1="24.26" y1="4.28" x2="24.02" y2="6.84" stroke="#ecdc18" stroke-width="1.05" stroke-linecap="round"/><line x1="24.31" y1="7.10" x2="26.79" y2="7.10" stroke="#ecdc18" stroke-width="1.05" stroke-linecap="round"/><line x1="31.11" y1="3.90" x2="33.59" y2="3.90" stroke="#ecdc18" stroke-width="1.05" stroke-linecap="round"/><line x1="33.86" y1="4.28" x2="33.62" y2="6.84" stroke="#ecdc18" stroke-width="1.05" stroke-linecap="round"/><line x1="33.58" y1="7.36" x2="33.34" y2="9.92" stroke="#ecdc18" stroke-width="1.05" stroke-linecap="round"/><line x1="30.51" y1="10.30" x2="32.99" y2="10.30" stroke="#ecdc18" stroke-width="1.05" stroke-linecap="round"/><line x1="30.76" y1="4.28" x2="30.52" y2="6.84" stroke="#ecdc18" stroke-width="1.05" stroke-linecap="round"/><line x1="30.81" y1="7.10" x2="33.29" y2="7.10" stroke="#ecdc18" stroke-width="1.05" stroke-linecap="round"/><line x1="38.11" y1="3.90" x2="40.59" y2="3.90" stroke="#ecdc18" stroke-width="1.05" stroke-linecap="round"/><line x1="40.86" y1="4.28" x2="40.62" y2="6.84" stroke="#ecdc18" stroke-width="1.05" stroke-linecap="round"/><line x1="40.58" y1="7.36" x2="40.34" y2="9.92" stroke="#ecdc18" stroke-width="1.05" stroke-linecap="round"/><line x1="37.51" y1="10.30" x2="39.99" y2="10.30" stroke="#ecdc18" stroke-width="1.05" stroke-linecap="round"/><line x1="37.76" y1="4.28" x2="37.52" y2="6.84" stroke="#ecdc18" stroke-width="1.05" stroke-linecap="round"/><line x1="37.81" y1="7.10" x2="40.29" y2="7.10" stroke="#ecdc18" stroke-width="1.05" stroke-linecap="round"/><circle cx="28.9" cy="10.2" r="0.55" fill="#ecdc18"/><text x="44" y="9.7" font-size="6.6" fill="#b8d8a8" font-family="Liberation Sans, sans-serif">Kg/m³</text></svg>
<div class="tbtn" style="left:541px;top:189px;width:58px">今日出油统计</div>
<div class="cbtn" style="left:648px;top:189px;width:50px">今日油罐出油</div>
<div class="a" style="left:582px;top:214.3px;width:60px;text-align:right">92#汽油</div>
<div class="a" style="left:646px;top:214.8px;width:54px;height:7px;background:#a6d66e;box-shadow:1.5px 1.5px 2px rgba(0,0,0,.35);color:#0c0c0c;font-weight:bold;font-size:6.3px;line-height:7px;text-align:right;padding-right:1px">共30吨</div>
<div class="a" style="left:582px;top:225.2px;width:60px;text-align:right">95#汽油</div>
<div class="a" style="left:646px;top:225.7px;width:39.3px;height:7px;background:#a8dcd8;box-shadow:1.5px 1.5px 2px rgba(0,0,0,.35);color:#0c0c0c;font-weight:bold;font-size:6.3px;line-height:7px;text-align:right;padding-right:1px">共20吨</div>
<div class="a" style="left:582px;top:235.9px;width:60px;text-align:right">98#汽油</div>
<div class="a" style="left:646px;top:236.4px;width:39.3px;height:7px;background:#fbf790;box-shadow:1.5px 1.5px 2px rgba(0,0,0,.35);color:#0c0c0c;font-weight:bold;font-size:6.3px;line-height:7px;text-align:right;padding-right:1px">共20吨</div>
<div class="a" style="left:582px;top:246.8px;width:60px;text-align:right">0#柴油</div>
<div class="a" style="left:646px;top:247.3px;width:39.3px;height:7px;background:#dcd8fa;box-shadow:1.5px 1.5px 2px rgba(0,0,0,.35);color:#0c0c0c;font-weight:bold;font-size:6.3px;line-height:7px;text-align:right;padding-right:1px">共20吨</div>
<div class="a" style="left:582px;top:257.8px;width:60px;text-align:right">-10#柴油</div>
<div class="a" style="left:646px;top:258.3px;width:48px;height:7px;background:#b0defc;box-shadow:1.5px 1.5px 2px rgba(0,0,0,.35);color:#0c0c0c;font-weight:bold;font-size:6.3px;line-height:7px;text-align:right;padding-right:1px">共28吨</div>
<div class="a" style="left:582px;top:268.6px;width:60px;text-align:right">-20#柴油</div>
<div class="a" style="left:646px;top:269.1px;width:48px;height:7px;background:#fdd8d8;box-shadow:1.5px 1.5px 2px rgba(0,0,0,.35);color:#0c0c0c;font-weight:bold;font-size:6.3px;line-height:7px;text-align:right;padding-right:1px">共28吨</div>
<svg class="a" style="left:700px;top:190px" width="120" height="100" font-family="Liberation Sans, sans-serif"><g transform="translate(-700,-190)"><path d="M762.90,204.10 A41.0,37.3 0 0 1 801.89,229.87 L792.00,232.81 A30.6,27.8 0 0 0 762.90,213.60 Z" fill="#a6d66e"/>
<path d="M801.89,229.87 A41.0,37.3 0 0 1 797.52,261.39 L788.74,256.30 A30.6,27.8 0 0 0 792.00,232.81 Z" fill="#a8dcd8"/>
<path d="M797.52,261.39 A41.0,37.3 0 0 1 768.04,278.41 L766.74,268.98 A30.6,27.8 0 0 0 788.74,256.30 Z" fill="#fbf790"/>
<path d="M768.04,278.41 A41.0,37.3 0 0 1 734.83,268.59 L741.95,261.67 A30.6,27.8 0 0 0 766.74,268.98 Z" fill="#dcd8fa"/>
<path d="M734.83,268.59 A41.0,37.3 0 0 1 724.78,227.67 L734.45,231.17 A30.6,27.8 0 0 0 741.95,261.67 Z" fill="#b0defc"/>
<path d="M724.78,227.67 A41.0,37.3 0 0 1 762.90,204.10 L762.90,213.60 A30.6,27.8 0 0 0 734.45,231.17 Z" fill="#fdd8d8"/>
<line x1="762.90" y1="213.60" x2="762.90" y2="204.10" stroke="#ffffff" stroke-width="0.8"/>
<line x1="792.00" y1="232.81" x2="801.89" y2="229.87" stroke="#ffffff" stroke-width="0.8"/>
<line x1="788.74" y1="256.30" x2="797.52" y2="261.39" stroke="#ffffff" stroke-width="0.8"/>
<line x1="766.74" y1="268.98" x2="768.04" y2="278.41" stroke="#ffffff" stroke-width="0.8"/>
<line x1="741.95" y1="261.67" x2="734.83" y2="268.59" stroke="#ffffff" stroke-width="0.8"/>
<line x1="734.45" y1="231.17" x2="724.78" y2="227.67" stroke="#ffffff" stroke-width="0.8"/>
<ellipse cx="762.9" cy="241.4" rx="40.6" ry="36.9" fill="none" stroke="rgba(255,255,255,.45)" stroke-width="0.8"/>
<text x="783.9" y="215.8" font-size="4.9" fill="#2c3a4e" font-weight="bold" text-anchor="middle" dominant-baseline="central">20%</text>
<text x="798.4" y="246.2" font-size="4.9" fill="#2c3a4e" font-weight="bold" text-anchor="middle" dominant-baseline="central">14%</text>
<text x="782.1" y="269.6" font-size="4.9" fill="#2c3a4e" font-weight="bold" text-anchor="middle" dominant-baseline="central">14%</text>
<text x="751.8" y="273.1" font-size="4.9" fill="#2c3a4e" font-weight="bold" text-anchor="middle" dominant-baseline="central">14%</text>
<text x="728.0" y="249.2" font-size="4.9" fill="#2c3a4e" font-weight="bold" text-anchor="middle" dominant-baseline="central">19%</text>
<text x="742.8" y="215.2" font-size="4.9" fill="#2c3a4e" font-weight="bold" text-anchor="middle" dominant-baseline="central">19%</text></g></svg>
<div class="a" style="left:721px;top:238px;width:80px;text-align:center">总出油146吨</div>
<svg class="a" style="left:671px;top:15px" width="13" height="13" viewBox="0 0 13 13"><circle cx="6.5" cy="6.5" r="5.9" fill="#e4e4e6"/><circle cx="6.5" cy="5" r="2" fill="none" stroke="#505458" stroke-width="1"/><path d="M2.9,10.6 C3.3,8.2 4.6,7.4 6.5,7.4 C8.4,7.4 9.7,8.2 10.1,10.6" fill="none" stroke="#505458" stroke-width="1"/></svg>
<div class="a" style="left:687px;top:17px;font-size:8px;color:#f0f2f4">Admin</div>
<div class="a" style="left:717px;top:5.9px;font-size:12.8px;color:#dfe6f2;transform:scaleX(1.2);transform-origin:0 0;letter-spacing:0.1px;-webkit-text-stroke:0.15px #dfe6f2">14:50:41</div>
<div class="a" style="left:720px;top:17.5px;font-size:5.6px;color:#d0d8e4;letter-spacing:0.45px">2020/7/13&nbsp; pm&nbsp; 周1</div>
<div class="a" style="left:788px;top:5px;width:1.5px;height:19px;background:#7d8c9c"></div>
<svg class="a" style="left:792px;top:3px" width="38" height="22" viewBox="0 0 38 22"><g stroke="#f5b818" stroke-width="1.3" stroke-linecap="round"><line x1="25.4" y1="2.6" x2="25.4" y2="5"/><line x1="17.2" y1="6" x2="18.9" y2="7.3"/><line x1="30.2" y1="5.3" x2="31.8" y2="6.6"/><line x1="31.6" y1="10.6" x2="34" y2="10.6"/><line x1="30.2" y1="14.2" x2="31.8" y2="16"/></g><circle cx="25.2" cy="10.4" r="4.8" fill="#f5b818"/><path d="M5.5,20.8 C1.6,20.8 1.2,15.2 4.8,14.9 C5.6,10.6 9.6,8.3 13.6,9.2 C16.4,9.8 18.2,11.6 19,13.6 C23,13 26.4,15.6 25.8,18.6 C25.5,20.2 24.2,20.8 22.6,20.8 Z" fill="#d2e0f2"/></svg>
<div class="a" style="left:829px;top:7.2px;font-size:5.6px;color:#e4e8ee">多云</div>
<div class="a" style="left:829px;top:14.7px;font-size:4.6px;color:#c8d4e0">16-22°C</div>
<div class="a" style="left:829px;top:21px;font-size:4.6px;color:#c0ccd8">北京市大兴区</div>
<div class="a" style="left:860px;top:54px;width:3.5px;height:22px;border-radius:2px;background:linear-gradient(180deg,#8898a8 0,#8898a8 30%,#2aa0e0 30%)"></div>
<div class="a" style="left:859.5px;top:72px;width:5px;height:5px;border-radius:50%;background:#2ab0f0"></div>
<div class="tbtn" style="left:13.5px;top:296px;width:70.5px;height:13.5px;font-size:7.4px;line-height:11.5px">油罐液位实时监控</div>
<svg class="a" style="left:0;top:0" width="865" height="418" font-family="Liberation Sans, sans-serif"><polyline points="129,378.90 140.5,373.20 752.9,373.20" fill="none" stroke="#8a9aac" stroke-width="1"/><text x="123.8" y="380.90" font-size="5.8" fill="#e4e8ee" text-anchor="end" letter-spacing="0.65">0%</text><polyline points="129,371.22 140.5,365.52 752.9,365.52" fill="none" stroke="#8a9aac" stroke-width="1"/><text x="123.8" y="373.22" font-size="5.8" fill="#e4e8ee" text-anchor="end" letter-spacing="0.65">10%</text><polyline points="129,363.54 140.5,357.84 752.9,357.84" fill="none" stroke="#8a9aac" stroke-width="1"/><text x="123.8" y="365.54" font-size="5.8" fill="#e4e8ee" text-anchor="end" letter-spacing="0.65">20%</text><polyline points="129,355.86 140.5,350.16 752.9,350.16" fill="none" stroke="#8a9aac" stroke-width="1"/><text x="123.8" y="357.86" font-size="5.8" fill="#e4e8ee" text-anchor="end" letter-spacing="0.65">30%</text><polyline points="129,348.18 140.5,342.48 752.9,342.48" fill="none" stroke="#8a9aac" stroke-width="1"/><text x="123.8" y="350.18" font-size="5.8" fill="#e4e8ee" text-anchor="end" letter-spacing="0.65">40%</text><polyline points="129,340.50 140.5,334.80 752.9,334.80" fill="none" stroke="#8a9aac" stroke-width="1"/><text x="123.8" y="342.50" font-size="5.8" fill="#e4e8ee" text-anchor="end" letter-spacing="0.65">50%</text><polyline points="129,332.82 140.5,327.12 752.9,327.12" fill="none" stroke="#8a9aac" stroke-width="1"/><text x="123.8" y="334.82" font-size="5.8" fill="#e4e8ee" text-anchor="end" letter-spacing="0.65">60%</text><polyline points="129,325.14 140.5,319.44 752.9,319.44" fill="none" stroke="#8a9aac" stroke-width="1"/><text x="123.8" y="327.14" font-size="5.8" fill="#e4e8ee" text-anchor="end" letter-spacing="0.65">70%</text><polyline points="129,317.46 140.5,311.76 752.9,311.76" fill="none" stroke="#8a9aac" stroke-width="1"/><text x="123.8" y="319.46" font-size="5.8" fill="#e4e8ee" text-anchor="end" letter-spacing="0.65">80%</text><polyline points="129,309.78 140.5,304.08 752.9,304.08" fill="none" stroke="#8a9aac" stroke-width="1"/><text x="123.8" y="311.78" font-size="5.8" fill="#e4e8ee" text-anchor="end" letter-spacing="0.65">90%</text><polyline points="129,302.10 140.5,296.40 752.9,296.40" fill="none" stroke="#8a9aac" stroke-width="1"/><text x="123.8" y="304.10" font-size="5.8" fill="#e4e8ee" text-anchor="end" letter-spacing="0.65">100%</text><polygon points="142.10,300.3 145.60,298.1 157.80,298.1 154.30,300.3" fill="#c8c0bc"/><rect x="142.10" y="300.3" width="12.2" height="38.20" fill="#b2acaa"/><polygon points="154.30,300.3 157.80,298.1 157.80,336.30 154.30,338.50" fill="#8a8482"/><rect x="142.10" y="338.50" width="12.2" height="38.70" fill="#a6c6ea"/><polygon points="154.30,338.50 157.80,336.30 157.80,375.00 154.30,377.2" fill="#7a90a8"/><text x="148.20" y="325.30" font-size="7.8" font-weight="bold" fill="#f2e2ae" text-anchor="middle" font-family="Liberation Serif, serif" letter-spacing="0.6">10</text><text x="148.20" y="356.70" font-size="7.8" font-weight="bold" fill="#3e55a6" text-anchor="middle" font-family="Liberation Serif, serif" letter-spacing="0.6">10</text><text x="145.70" y="388.40" font-size="7.2" fill="#e8ecf0" text-anchor="middle" letter-spacing="0.5">油罐1</text><polygon points="172.71,300.3 176.21,298.1 188.41,298.1 184.91,300.3" fill="#c8c0bc"/><rect x="172.71" y="300.3" width="12.2" height="19.10" fill="#b2acaa"/><polygon points="184.91,300.3 188.41,298.1 188.41,317.20 184.91,319.40" fill="#8a8482"/><rect x="172.71" y="319.40" width="12.2" height="57.80" fill="#a6c6ea"/><polygon points="184.91,319.40 188.41,317.20 188.41,375.00 184.91,377.2" fill="#7a90a8"/><text x="178.81" y="314.00" font-size="7.8" font-weight="bold" fill="#f2e2ae" text-anchor="middle" font-family="Liberation Serif, serif" letter-spacing="0.6">6</text><text x="178.81" y="347.40" font-size="7.8" font-weight="bold" fill="#3e55a6" text-anchor="middle" font-family="Liberation Serif, serif" letter-spacing="0.6">14</text><text x="176.31" y="388.40" font-size="7.2" fill="#e8ecf0" text-anchor="middle" letter-spacing="0.5">油罐2</text><polygon points="203.32,300.3 206.82,298.1 219.02,298.1 215.52,300.3" fill="#c8c0bc"/><rect x="203.32" y="300.3" width="12.2" height="6.80" fill="#b2acaa"/><polygon points="215.52,300.3 219.02,298.1 219.02,304.90 215.52,307.10" fill="#8a8482"/><rect x="203.32" y="307.10" width="12.2" height="70.10" fill="#ff0000"/><polygon points="215.52,307.10 219.02,304.90 219.02,375.00 215.52,377.2" fill="#b80000"/><text x="209.42" y="306.40" font-size="7.8" font-weight="bold" fill="#f2e2ae" text-anchor="middle" font-family="Liberation Serif, serif" letter-spacing="0.6">4</text><text x="209.42" y="342.90" font-size="7.8" font-weight="bold" fill="#3e55a6" text-anchor="middle" font-family="Liberation Serif, serif" letter-spacing="0.6">16</text><text x="206.92" y="388.40" font-size="7.2" fill="#e8ecf0" text-anchor="middle" letter-spacing="0.5">油罐3</text><polygon points="233.93,300.3 237.43,298.1 249.63,298.1 246.13,300.3" fill="#c8c0bc"/><rect x="233.93" y="300.3" width="12.2" height="24.10" fill="#b2acaa"/><polygon points="246.13,300.3 249.63,298.1 249.63,322.20 246.13,324.40" fill="#8a8482"/><rect x="233.93" y="324.40" width="12.2" height="52.80" fill="#a6c6ea"/><polygon points="246.13,324.40 249.63,322.20 249.63,375.00 246.13,377.2" fill="#7a90a8"/><text x="240.03" y="317.70" font-size="7.8" font-weight="bold" fill="#f2e2ae" text-anchor="middle" font-family="Liberation Serif, serif" letter-spacing="0.6">7</text><text x="240.03" y="347.90" font-size="7.8" font-weight="bold" fill="#3e55a6" text-anchor="middle" font-family="Liberation Serif, serif" letter-spacing="0.6">13</text><text x="237.53" y="388.40" font-size="7.2" fill="#e8ecf0" text-anchor="middle" letter-spacing="0.5">油罐4</text><polygon points="264.54,300.3 268.04,298.1 280.24,298.1 276.74,300.3" fill="#c8c0bc"/><rect x="264.54" y="300.3" width="12.2" height="22.40" fill="#b2acaa"/><polygon points="276.74,300.3 280.24,298.1 280.24,320.50 276.74,322.70" fill="#8a8482"/><rect x="264.54" y="322.70" width="12.2" height="54.50" fill="#a6c6ea"/><polygon points="276.74,322.70 280.24,320.50 280.24,375.00 276.74,377.2" fill="#7a90a8"/><text x="270.64" y="317.00" font-size="7.8" font-weight="bold" fill="#f2e2ae" text-anchor="middle" font-family="Liberation Serif, serif" letter-spacing="0.6">6.5</text><text x="270.64" y="349.10" font-size="7.8" font-weight="bold" fill="#3e55a6" text-anchor="middle" font-family="Liberation Serif, serif" letter-spacing="0.6">13.5</text><text x="268.14" y="388.40" font-size="7.2" fill="#e8ecf0" text-anchor="middle" letter-spacing="0.5">油罐5</text><polygon points="295.15,300.3 298.65,298.1 310.85,298.1 307.35,300.3" fill="#c8c0bc"/><rect x="295.15" y="300.3" width="12.2" height="40.70" fill="#b2acaa"/><polygon points="307.35,300.3 310.85,298.1 310.85,338.80 307.35,341.00" fill="#8a8482"/><rect x="295.15" y="341.00" width="12.2" height="36.20" fill="#a6c6ea"/><polygon points="307.35,341.00 310.85,338.80 310.85,375.00 307.35,377.2" fill="#7a90a8"/><text x="301.25" y="325.30" font-size="7.8" font-weight="bold" fill="#f2e2ae" text-anchor="middle" font-family="Liberation Serif, serif" letter-spacing="0.6">11</text><text x="301.25" y="357.90" font-size="7.8" font-weight="bold" fill="#3e55a6" text-anchor="middle" font-family="Liberation Serif, serif" letter-spacing="0.6">9</text><text x="298.75" y="388.40" font-size="7.2" fill="#e8ecf0" text-anchor="middle" letter-spacing="0.5">油罐6</text><polygon points="325.76,300.3 329.26,298.1 341.46,298.1 337.96,300.3" fill="#c8c0bc"/><rect x="325.76" y="300.3" width="12.2" height="20.60" fill="#b2acaa"/><polygon points="337.96,300.3 341.46,298.1 341.46,318.70 337.96,320.90" fill="#8a8482"/><rect x="325.76" y="320.90" width="12.2" height="56.30" fill="#a6c6ea"/><polygon points="337.96,320.90 341.46,318.70 341.46,375.00 337.96,377.2" fill="#7a90a8"/><text x="331.86" y="317.00" font-size="7.8" font-weight="bold" fill="#f2e2ae" text-anchor="middle" font-family="Liberation Serif, serif" letter-spacing="0.6">6.3</text><text x="331.86" y="349.10" font-size="7.8" font-weight="bold" fill="#3e55a6" text-anchor="middle" font-family="Liberation Serif, serif" letter-spacing="0.6">13.7</text><text x="329.36" y="388.40" font-size="7.2" fill="#e8ecf0" text-anchor="middle" letter-spacing="0.5">油罐7</text><polygon points="356.37,300.3 359.87,298.1 372.07,298.1 368.57,300.3" fill="#c8c0bc"/><rect x="356.37" y="300.3" width="12.2" height="17.70" fill="#b2acaa"/><polygon points="368.57,300.3 372.07,298.1 372.07,315.80 368.57,318.00" fill="#8a8482"/><rect x="356.37" y="318.00" width="12.2" height="59.20" fill="#a6c6ea"/><polygon points="368.57,318.00 372.07,315.80 372.07,375.00 368.57,377.2" fill="#7a90a8"/><text x="362.47" y="314.50" font-size="7.8" font-weight="bold" fill="#f2e2ae" text-anchor="middle" font-family="Liberation Serif, serif" letter-spacing="0.6">5.9</text><text x="362.47" y="349.10" font-size="7.8" font-weight="bold" fill="#3e55a6" text-anchor="middle" font-family="Liberation Serif, serif" letter-spacing="0.6">14.1</text><text x="359.97" y="388.40" font-size="7.2" fill="#e8ecf0" text-anchor="middle" letter-spacing="0.5">油罐8</text><polygon points="386.98,300.3 390.48,298.1 402.68,298.1 399.18,300.3" fill="#c8c0bc"/><rect x="386.98" y="300.3" width="12.2" height="46.10" fill="#b2acaa"/><polygon points="399.18,300.3 402.68,298.1 402.68,344.20 399.18,346.40" fill="#8a8482"/><rect x="386.98" y="346.40" width="12.2" height="30.80" fill="#a6c6ea"/><polygon points="399.18,346.40 402.68,344.20 402.68,375.00 399.18,377.2" fill="#7a90a8"/><text x="393.08" y="333.60" font-size="7.8" font-weight="bold" fill="#f2e2ae" text-anchor="middle" font-family="Liberation Serif, serif" letter-spacing="0.6">12</text><text x="393.08" y="359.90" font-size="7.8" font-weight="bold" fill="#3e55a6" text-anchor="middle" font-family="Liberation Serif, serif" letter-spacing="0.6">8</text><text x="390.58" y="388.40" font-size="7.2" fill="#e8ecf0" text-anchor="middle" letter-spacing="0.5">油罐9</text><polygon points="417.59,300.3 421.09,298.1 433.29,298.1 429.79,300.3" fill="#c8c0bc"/><rect x="417.59" y="300.3" width="12.2" height="4.80" fill="#b2acaa"/><polygon points="429.79,300.3 433.29,298.1 433.29,302.90 429.79,305.10" fill="#8a8482"/><rect x="417.59" y="305.10" width="12.2" height="72.10" fill="#ff0000"/><polygon points="429.79,305.10 433.29,302.90 433.29,375.00 429.79,377.2" fill="#b80000"/><text x="423.69" y="304.40" font-size="7.8" font-weight="bold" fill="#f2e2ae" text-anchor="middle" font-family="Liberation Serif, serif" letter-spacing="0.6">2</text><text x="423.69" y="337.80" font-size="7.8" font-weight="bold" fill="#3e55a6" text-anchor="middle" font-family="Liberation Serif, serif" letter-spacing="0.6">18</text><text x="421.19" y="388.40" font-size="7.2" fill="#e8ecf0" text-anchor="middle" letter-spacing="0.5">油罐10</text><polygon points="448.20,300.3 451.70,298.1 463.90,298.1 460.40,300.3" fill="#c8c0bc"/><rect x="448.20" y="300.3" width="12.2" height="30.70" fill="#b2acaa"/><polygon points="460.40,300.3 463.90,298.1 463.90,328.80 460.40,331.00" fill="#8a8482"/><rect x="448.20" y="331.00" width="12.2" height="46.20" fill="#a6c6ea"/><polygon points="460.40,331.00 463.90,328.80 463.90,375.00 460.40,377.2" fill="#7a90a8"/><text x="454.30" y="320.20" font-size="7.8" font-weight="bold" fill="#f2e2ae" text-anchor="middle" font-family="Liberation Serif, serif" letter-spacing="0.6">8</text><text x="454.30" y="355.90" font-size="7.8" font-weight="bold" fill="#3e55a6" text-anchor="middle" font-family="Liberation Serif, serif" letter-spacing="0.6">12</text><text x="451.80" y="388.40" font-size="7.2" fill="#e8ecf0" text-anchor="middle" letter-spacing="0.5">油罐11</text><polygon points="478.81,300.3 482.31,298.1 494.51,298.1 491.01,300.3" fill="#c8c0bc"/><rect x="478.81" y="300.3" width="12.2" height="69.60" fill="#b2acaa"/><polygon points="491.01,300.3 494.51,298.1 494.51,367.70 491.01,369.90" fill="#8a8482"/><rect x="478.81" y="369.90" width="12.2" height="7.30" fill="#f6df8e"/><polygon points="491.01,369.90 494.51,367.70 494.51,375.00 491.01,377.2" fill="#bfa860"/><text x="484.91" y="337.80" font-size="7.8" font-weight="bold" fill="#f2e2ae" text-anchor="middle" font-family="Liberation Serif, serif" letter-spacing="0.6">18</text><text x="484.91" y="375.50" font-size="7.8" font-weight="bold" fill="#3e4a66" text-anchor="middle" font-family="Liberation Serif, serif" letter-spacing="0.6">2</text><text x="482.41" y="388.40" font-size="7.2" fill="#e8ecf0" text-anchor="middle" letter-spacing="0.5">油罐12</text><polygon points="509.42,300.3 512.92,298.1 525.12,298.1 521.62,300.3" fill="#c8c0bc"/><rect x="509.42" y="300.3" width="12.2" height="25.60" fill="#b2acaa"/><polygon points="521.62,300.3 525.12,298.1 525.12,323.70 521.62,325.90" fill="#8a8482"/><rect x="509.42" y="325.90" width="12.2" height="51.30" fill="#a6c6ea"/><polygon points="521.62,325.90 525.12,323.70 525.12,375.00 521.62,377.2" fill="#7a90a8"/><text x="515.52" y="317.70" font-size="7.8" font-weight="bold" fill="#f2e2ae" text-anchor="middle" font-family="Liberation Serif, serif" letter-spacing="0.6">7.1</text><text x="515.52" y="353.70" font-size="7.8" font-weight="bold" fill="#3e55a6" text-anchor="middle" font-family="Liberation Serif, serif" letter-spacing="0.6">12.9</text><text x="513.02" y="388.40" font-size="7.2" fill="#e8ecf0" text-anchor="middle" letter-spacing="0.5">油罐13</text><polygon points="540.03,300.3 543.53,298.1 555.73,298.1 552.23,300.3" fill="#c8c0bc"/><rect x="540.03" y="300.3" width="12.2" height="42.00" fill="#b2acaa"/><polygon points="552.23,300.3 555.73,298.1 555.73,340.10 552.23,342.30" fill="#8a8482"/><rect x="540.03" y="342.30" width="12.2" height="34.90" fill="#a6c6ea"/><polygon points="552.23,342.30 555.73,340.10 555.73,375.00 552.23,377.2" fill="#7a90a8"/><text x="546.13" y="332.00" font-size="7.8" font-weight="bold" fill="#f2e2ae" text-anchor="middle" font-family="Liberation Serif, serif" letter-spacing="0.6">11.2</text><text x="546.13" y="359.90" font-size="7.8" font-weight="bold" fill="#3e55a6" text-anchor="middle" font-family="Liberation Serif, serif" letter-spacing="0.6">8.8</text><text x="543.63" y="388.40" font-size="7.2" fill="#e8ecf0" text-anchor="middle" letter-spacing="0.5">油罐14</text><polygon points="570.64,300.3 574.14,298.1 586.34,298.1 582.84,300.3" fill="#c8c0bc"/><rect x="570.64" y="300.3" width="12.2" height="22.40" fill="#b2acaa"/><polygon points="582.84,300.3 586.34,298.1 586.34,320.50 582.84,322.70" fill="#8a8482"/><rect x="570.64" y="322.70" width="12.2" height="54.50" fill="#a6c6ea"/><polygon points="582.84,322.70 586.34,320.50 586.34,375.00 582.84,377.2" fill="#7a90a8"/><text x="576.74" y="317.00" font-size="7.8" font-weight="bold" fill="#f2e2ae" text-anchor="middle" font-family="Liberation Serif, serif" letter-spacing="0.6">6.5</text><text x="576.74" y="351.10" font-size="7.8" font-weight="bold" fill="#3e55a6" text-anchor="middle" font-family="Liberation Serif, serif" letter-spacing="0.6">13.5</text><text x="574.24" y="388.40" font-size="7.2" fill="#e8ecf0" text-anchor="middle" letter-spacing="0.5">油罐15</text><polygon points="601.25,300.3 604.75,298.1 616.95,298.1 613.45,300.3" fill="#c8c0bc"/><rect x="601.25" y="300.3" width="12.2" height="14.10" fill="#b2acaa"/><polygon points="613.45,300.3 616.95,298.1 616.95,312.20 613.45,314.40" fill="#8a8482"/><rect x="601.25" y="314.40" width="12.2" height="62.80" fill="#a6c6ea"/><polygon points="613.45,314.40 616.95,312.20 616.95,375.00 613.45,377.2" fill="#7a90a8"/><text x="607.35" y="309.70" font-size="7.8" font-weight="bold" fill="#f2e2ae" text-anchor="middle" font-family="Liberation Serif, serif" letter-spacing="0.6">5</text><text x="607.35" y="344.60" font-size="7.8" font-weight="bold" fill="#3e55a6" text-anchor="middle" font-family="Liberation Serif, serif" letter-spacing="0.6">15</text><text x="604.85" y="388.40" font-size="7.2" fill="#e8ecf0" text-anchor="middle" letter-spacing="0.5">油罐16</text><polygon points="631.86,300.3 635.36,298.1 647.56,298.1 644.06,300.3" fill="#c8c0bc"/><rect x="631.86" y="300.3" width="12.2" height="25.60" fill="#b2acaa"/><polygon points="644.06,300.3 647.56,298.1 647.56,323.70 644.06,325.90" fill="#8a8482"/><rect x="631.86" y="325.90" width="12.2" height="51.30" fill="#a6c6ea"/><polygon points="644.06,325.90 647.56,323.70 647.56,375.00 644.06,377.2" fill="#7a90a8"/><text x="637.96" y="319.00" font-size="7.8" font-weight="bold" fill="#f2e2ae" text-anchor="middle" font-family="Liberation Serif, serif" letter-spacing="0.6">7.2</text><text x="637.96" y="352.10" font-size="7.8" font-weight="bold" fill="#3e55a6" text-anchor="middle" font-family="Liberation Serif, serif" letter-spacing="0.6">12.8</text><text x="635.46" y="388.40" font-size="7.2" fill="#e8ecf0" text-anchor="middle" letter-spacing="0.5">油罐17</text><polygon points="662.47,300.3 665.97,298.1 678.17,298.1 674.67,300.3" fill="#c8c0bc"/><rect x="662.47" y="300.3" width="12.2" height="19.30" fill="#b2acaa"/><polygon points="674.67,300.3 678.17,298.1 678.17,317.40 674.67,319.60" fill="#8a8482"/><rect x="662.47" y="319.60" width="12.2" height="57.60" fill="#a6c6ea"/><polygon points="674.67,319.60 678.17,317.40 678.17,375.00 674.67,377.2" fill="#7a90a8"/><text x="668.57" y="314.00" font-size="7.8" font-weight="bold" fill="#f2e2ae" text-anchor="middle" font-family="Liberation Serif, serif" letter-spacing="0.6">6</text><text x="668.57" y="347.90" font-size="7.8" font-weight="bold" fill="#3e55a6" text-anchor="middle" font-family="Liberation Serif, serif" letter-spacing="0.6">14</text><text x="666.07" y="388.40" font-size="7.2" fill="#e8ecf0" text-anchor="middle" letter-spacing="0.5">油罐18</text><polygon points="693.08,300.3 696.58,298.1 708.78,298.1 705.28,300.3" fill="#c8c0bc"/><rect x="693.08" y="300.3" width="12.2" height="15.30" fill="#b2acaa"/><polygon points="705.28,300.3 708.78,298.1 708.78,313.40 705.28,315.60" fill="#8a8482"/><rect x="693.08" y="315.60" width="12.2" height="61.60" fill="#a6c6ea"/><polygon points="705.28,315.60 708.78,313.40 708.78,375.00 705.28,377.2" fill="#7a90a8"/><text x="699.18" y="311.90" font-size="7.8" font-weight="bold" fill="#f2e2ae" text-anchor="middle" font-family="Liberation Serif, serif" letter-spacing="0.6">5.1</text><text x="699.18" y="347.10" font-size="7.8" font-weight="bold" fill="#3e55a6" text-anchor="middle" font-family="Liberation Serif, serif" letter-spacing="0.6">14.9</text><text x="696.68" y="388.40" font-size="7.2" fill="#e8ecf0" text-anchor="middle" letter-spacing="0.5">油罐19</text><polygon points="723.69,300.3 727.19,298.1 739.39,298.1 735.89,300.3" fill="#c8c0bc"/><rect x="723.69" y="300.3" width="12.2" height="34.20" fill="#b2acaa"/><polygon points="735.89,300.3 739.39,298.1 739.39,332.30 735.89,334.50" fill="#8a8482"/><rect x="723.69" y="334.50" width="12.2" height="42.70" fill="#a6c6ea"/><polygon points="735.89,334.50 739.39,332.30 739.39,375.00 735.89,377.2" fill="#7a90a8"/><text x="729.79" y="321.50" font-size="7.8" font-weight="bold" fill="#f2e2ae" text-anchor="middle" font-family="Liberation Serif, serif" letter-spacing="0.6">9</text><text x="729.79" y="353.40" font-size="7.8" font-weight="bold" fill="#3e55a6" text-anchor="middle" font-family="Liberation Serif, serif" letter-spacing="0.6">11</text><text x="727.29" y="388.40" font-size="7.2" fill="#e8ecf0" text-anchor="middle" letter-spacing="0.5">油罐20</text></svg>
<div class="a" style="left:793px;top:328.5px;width:5.5px;height:5.5px;background:#a8a29e"></div>
<div class="a" style="left:804px;top:327.9px;font-size:6.7px">未使用</div>
<div class="a" style="left:793px;top:337.3px;width:5.5px;height:5.5px;background:#a8cef2"></div>
<div class="a" style="left:804px;top:336.7px;font-size:6.7px">当前液位</div>
<div class="a" style="left:793px;top:346.1px;width:5.5px;height:5.5px;background:#ff0000"></div>
<div class="a" style="left:804px;top:345.5px;font-size:6.7px">高高报警</div>
<div class="a" style="left:793px;top:354.4px;width:5.5px;height:5.5px;background:#f6df8e"></div>
<div class="a" style="left:804px;top:353.8px;font-size:6.7px">低低报警</div>
</body></html>
